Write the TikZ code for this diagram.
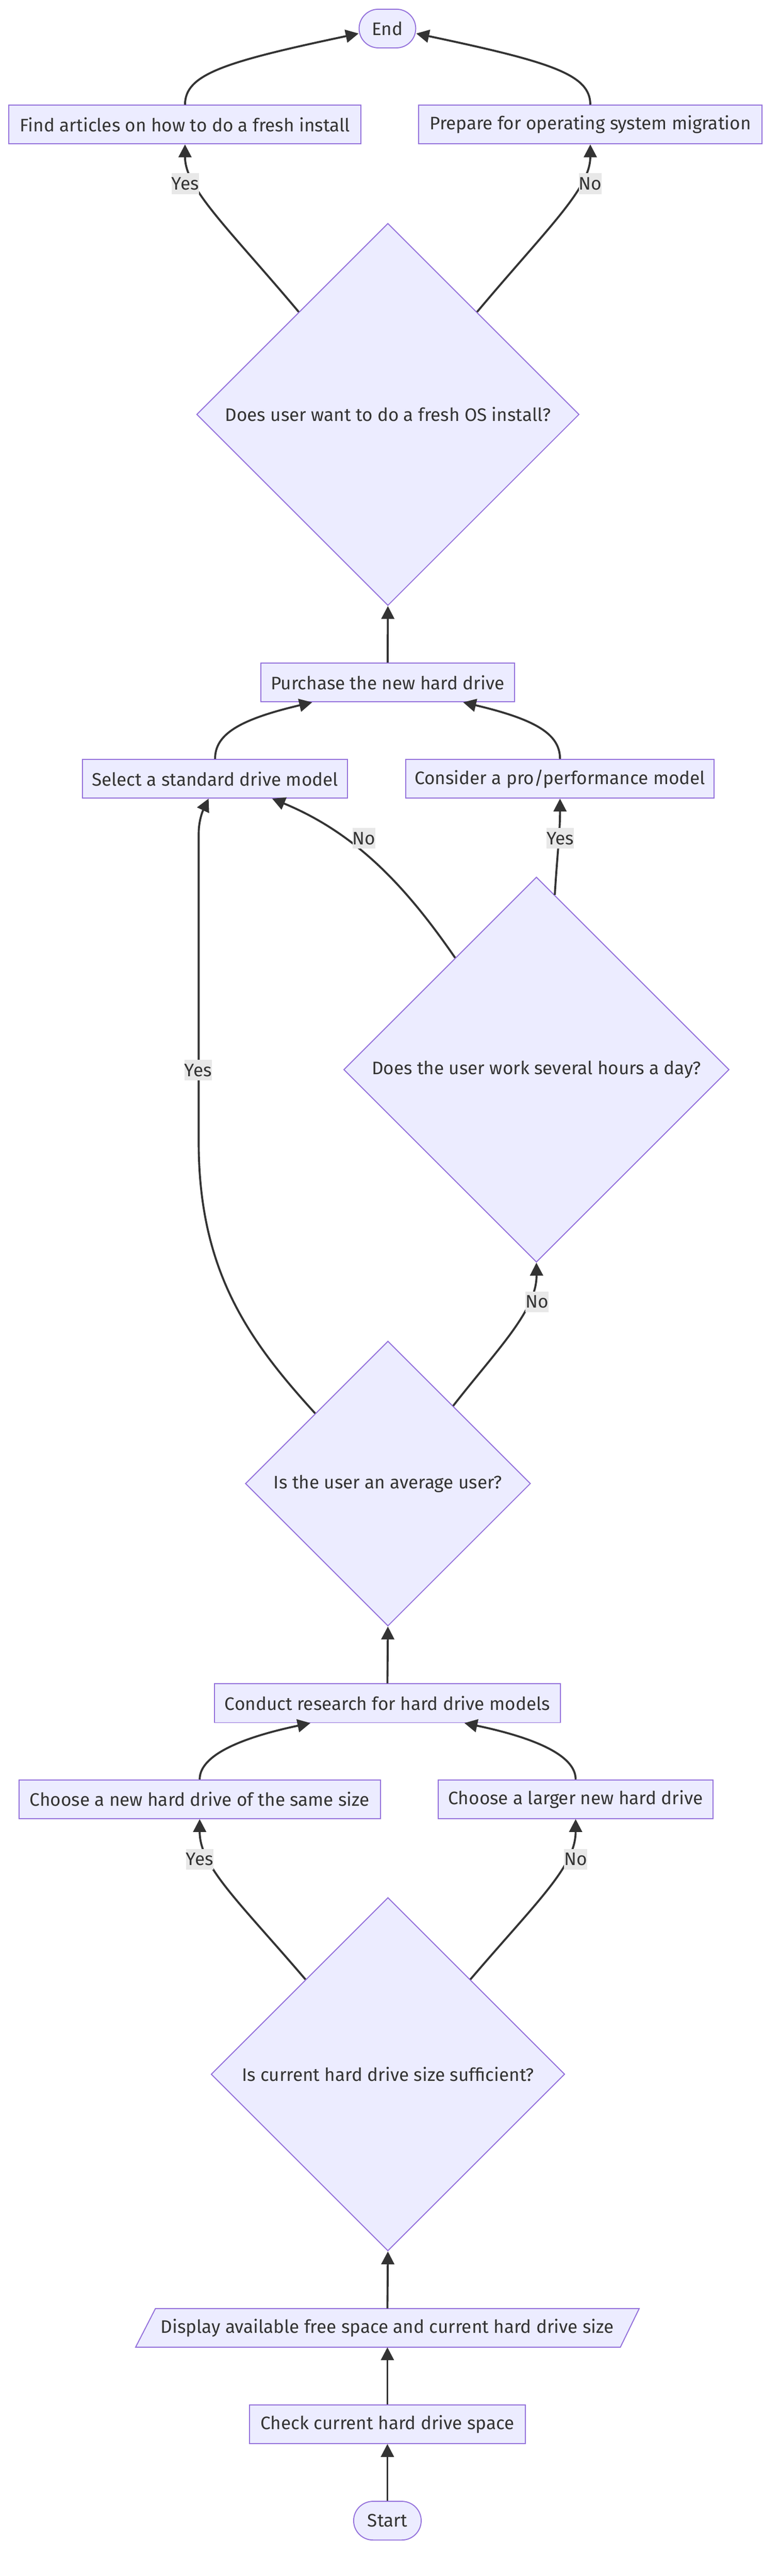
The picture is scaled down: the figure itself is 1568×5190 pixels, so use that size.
\documentclass[tikz,border=0pt]{standalone}
\usepackage{fontspec}
\setmainfont{Fira Sans}
\usetikzlibrary{shapes.geometric,arrows.meta,calc}
\definecolor{nodefill}{HTML}{ECECFF}
\definecolor{nodeline}{HTML}{9370DB}
\definecolor{edgecol}{HTML}{333333}
\definecolor{lblfill}{HTML}{E8E8E8}
\begin{document}
\begin{tikzpicture}[x=1pt,y=-1pt,
  every node/.style={font=\fontsize{36.5}{44}\selectfont, text=edgecol},
  procbox/.style={rectangle, draw=nodeline, fill=nodefill, line width=2pt, minimum height=78pt, inner sep=0pt},
  termbox/.style={procbox, rounded corners=39pt},
  decision/.style={diamond, draw=nodeline, fill=nodefill, line width=2pt, inner sep=0pt, aspect=1},
  lbl/.style={fill=lblfill, inner xsep=0pt, inner ysep=0pt, minimum height=42pt},
  flow/.style={draw=edgecol, line width=4pt, -{Triangle[length=26pt,width=26pt]}},
]
\useasboundingbox (0,0) rectangle (1568,5190);
\fill[white] (0,0) rectangle (1568,5190);

% nodes
\node[termbox, minimum width=136pt] (start) at (780,5078.5) {Start};
\node[procbox, minimum width=556pt] (check) at (780,4884) {Check current hard drive space};
\coordinate (dispc) at (780,4690);
\draw[draw=nodeline, fill=nodefill, line width=2pt]
  ($(dispc)+(-507,39)$) -- ($(dispc)+(469,39)$) -- ($(dispc)+(507,-39)$) -- ($(dispc)+(-467,-39)$) -- cycle;
\node[inner sep=0pt, minimum width=1014pt, minimum height=78pt] (disp) at (dispc) {Display available free space and current hard drive size};
\node[decision, minimum width=712pt, minimum height=712pt] (d4) at (781,4179) {Is current hard drive size sufficient?};
\node[procbox, minimum width=728pt] (same) at (402,3625) {Choose a new hard drive of the same size};
\node[procbox, minimum width=554pt] (larger) at (1159,3625) {Choose a larger new hard drive};
\node[procbox, minimum width=696pt] (research) at (780,3431.5) {Conduct research for hard drive models};
\node[decision, minimum width=574pt, minimum height=574pt] (d3) at (781,2989) {Is the user an average user?};
\node[decision, minimum width=776pt, minimum height=776pt] (d2) at (1080,2155) {Does the user work several hours a day?};
\node[procbox, minimum width=534pt] (select) at (433,1569) {Select a standard drive model};
\node[procbox, minimum width=621pt] (pro) at (1127.5,1569) {Consider a pro/performance model};
\node[procbox, minimum width=511pt] (purchase) at (780.5,1375) {Purchase the new hard drive};
\node[decision, minimum width=770pt, minimum height=770pt] (d1) at (781,835) {Does user want to do a fresh OS install?};
\node[procbox, minimum width=709pt] (find) at (372.5,251) {Find articles on how to do a fresh install};
\node[procbox, minimum width=691pt] (prep) at (1188.5,251) {Prepare for operating system migration};
\node[termbox, minimum width=114pt] (end) at (780,57.5) {End};

% edges
\draw[flow] (start.north) -- (check.south);
\draw[flow] (check.north) -- (disp.south);
\draw[flow] (disp.north) -- (d4.south);
\draw[flow] (d4.131) .. controls (480,3830) and (402,3760) .. (same.south);
\draw[flow] (d4.49) .. controls (1082,3830) and (1159,3760) .. (larger.south);
\draw[flow] (same.north) .. controls (402,3535) and (490,3500) .. ($(research.south)+(-155,0)$);
\draw[flow] (larger.north) .. controls (1159,3535) and (1071,3500) .. ($(research.south)+(155,0)$);
\draw[flow] (research.north) -- (d3.south);
\draw[flow] (d3.136) .. controls (500,2700) and (400,2560) .. (400,2300) -- (400,1680) .. controls (400,1650) and (410,1630) .. ($(select.south)+(-13,0)$);
\draw[flow] (d3.50) .. controls (1000,2720) and (1081,2640) .. (d2.south);
\draw[flow] (d2.126) .. controls (820,1790) and (720,1680) .. ($(select.south)+(115,0)$);
\draw[flow] (d2.84) .. controls (1122,1720) and (1127.5,1680) .. (pro.south);
\draw[flow] (select.north) .. controls (433,1480) and (480,1450) .. ($(purchase.south)+(-152,0)$);
\draw[flow] (pro.north) .. controls (1127.5,1480) and (1081,1450) .. ($(purchase.south)+(152,0)$);
\draw[flow] (purchase.north) -- (d1.south);
\draw[flow] (d1.131) .. controls (460,460) and (372.5,380) .. (find.south);
\draw[flow] (d1.49) .. controls (1102,460) and (1188.5,380) .. (prep.south);
\draw[flow] (find.north) .. controls (372.5,150) and (450,125) .. ($(end.west)+(0,10)$);
\draw[flow] (prep.north) .. controls (1188.5,150) and (1110,125) .. ($(end.east)+(0,10)$);

% edge labels
\node[lbl] (l1) at (373,370) {Yes};
\node[lbl] (l2) at (1188.5,370) {No};
\node[lbl] (l3) at (733,1689) {No};
\node[lbl] (l4) at (1128,1689) {Yes};
\node[lbl] (l5) at (399,2156) {Yes};
\node[lbl] (l6) at (1081,2623) {No};
\node[lbl] (l7) at (402,3746) {Yes};
\node[lbl] (l8) at (1159,3746) {No};
\end{tikzpicture}
\end{document}
